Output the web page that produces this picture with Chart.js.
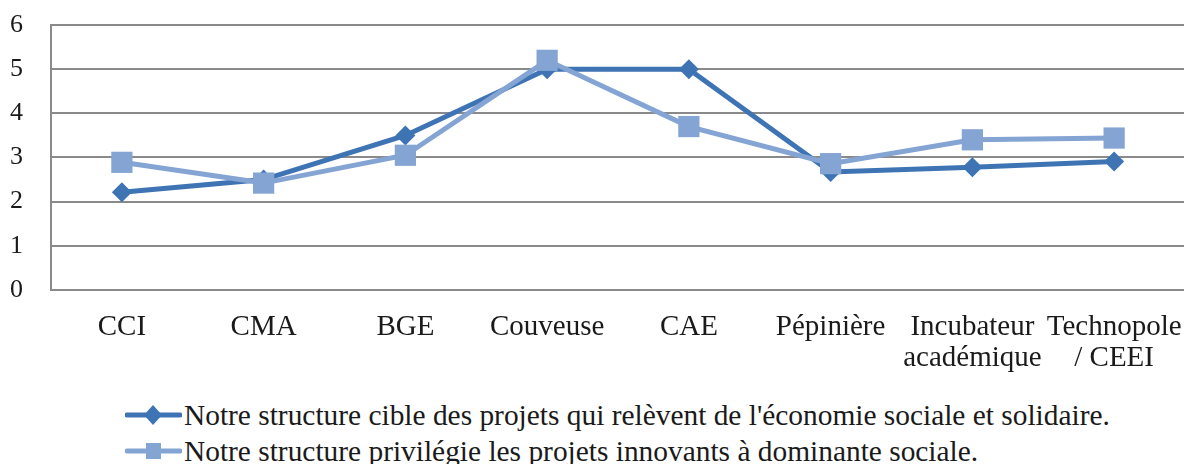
<!DOCTYPE html>
<html>
<head>
<meta charset="utf-8">
<script src="https://cdn.jsdelivr.net/npm/chart.js@4"></script>
<style>
  body { margin: 0; background: #fff; }
  #wrap { position: relative; width: 1184px; height: 464px; overflow: hidden; }
  /* a bit wider than the page: chart.js keeps some room on the right, the original runs to the edge */
  #box { position: absolute; left: 0; top: 0; width: 1200px; height: 376px; }
  #legend { position: absolute; left: 125px; top: 397px; font-family: "Liberation Serif", "Times New Roman", serif; font-size: 29.4px; color: #1a1a1a; }
  #legend .row { display: flex; align-items: center; height: 36px; white-space: nowrap; }
  #legend svg { margin-right: 2px; }
</style>
</head>
<body>
<div id="wrap">
  <div id="box"><canvas id="chart"></canvas></div>
  <div id="legend"></div>
</div>
<script>
  const categories = ['CCI', 'CMA', 'BGE', 'Couveuse', 'CAE', 'Pépinière', ['Incubateur', 'académique'], ['Technopole', '/ CEEI']];
  const cibleESS = [2.21, 2.5, 3.5, 5.0, 5.0, 2.67, 2.78, 2.91];
  const innovantsSociaux = [2.89, 2.42, 3.05, 5.2, 3.7, 2.86, 3.4, 3.44];
  const seriesNames = [
    "Notre structure cible des projets qui relèvent de l'économie sociale et solidaire.",
    'Notre structure privilégie les projets innovants à dominante sociale.'
  ];
  const yTicks = [0, 1, 2, 3, 4, 5, 6];

  const darkBlue = '#3e74b4';
  const lightBlue = '#84a4d3';
  const gridGray = '#8a8a8a';
  const serif = '"Liberation Serif", "Times New Roman", serif';

  const ctx = document.getElementById('chart').getContext('2d');
  new Chart(ctx, {
    type: 'line',
    data: {
      labels: categories,
      datasets: [{
        label: seriesNames[0],
        data: cibleESS,
        borderColor: darkBlue,
        backgroundColor: darkBlue,
        borderWidth: 5,
        pointStyle: 'rectRot',
        pointRadius: 10,
        pointBorderWidth: 0,
        tension: 0,
        order: 1
      }, {
        label: seriesNames[1],
        data: innovantsSociaux,
        borderColor: lightBlue,
        backgroundColor: lightBlue,
        borderWidth: 5,
        pointStyle: 'rect',
        pointRadius: 15,
        pointBorderWidth: 0,
        tension: 0,
        order: 0
      }]
    },
    options: {
      responsive: true,
      maintainAspectRatio: false,
      animation: false,
      layout: { padding: { top: 25, left: 10, right: 0, bottom: 0 } },
      plugins: { legend: { display: false }, tooltip: { enabled: false } },
      scales: {
        x: {
          offset: true,
          // invisible tick marks push the labels down without padding the right side
          grid: { display: true, drawOnChartArea: false, drawTicks: true, tickLength: 20, color: 'rgba(0,0,0,0)' },
          border: { display: false },
          ticks: { font: { family: serif, size: 29, lineHeight: 1.07 }, color: '#1a1a1a', padding: 2, autoSkip: false, maxRotation: 0 }
        },
        y: {
          min: 0,
          max: 6,
          afterBuildTicks: scale => { scale.ticks = yTicks.map(v => ({ value: v })); },
          afterFit: scale => { scale.width = 41; },
          grid: { color: gridGray, lineWidth: 2, drawTicks: false },
          border: { display: true, color: gridGray, width: 2 },
          ticks: { font: { family: serif, size: 26 }, color: '#1a1a1a', padding: 0, crossAlign: 'far' }
        }
      }
    }
  });

  // legend drawn as html so both rows line up on the left like the original
  const legend = document.getElementById('legend');
  const markers = [
    '<polygon points="28,1 37,11 28,21 19,11" fill="' + darkBlue + '"/>',
    '<rect x="21" y="3" width="15" height="16" fill="' + lightBlue + '"/>'
  ];
  [darkBlue, lightBlue].forEach((col, i) => {
    const row = document.createElement('div');
    row.className = 'row';
    row.innerHTML = '<svg width="57" height="22"><line x1="2" y1="11" x2="55" y2="11" stroke="' + col + '" stroke-width="5" stroke-linecap="round"/>' + markers[i] + '</svg><span>' + seriesNames[i] + '</span>';
    legend.appendChild(row);
  });
</script>
</body>
</html>
